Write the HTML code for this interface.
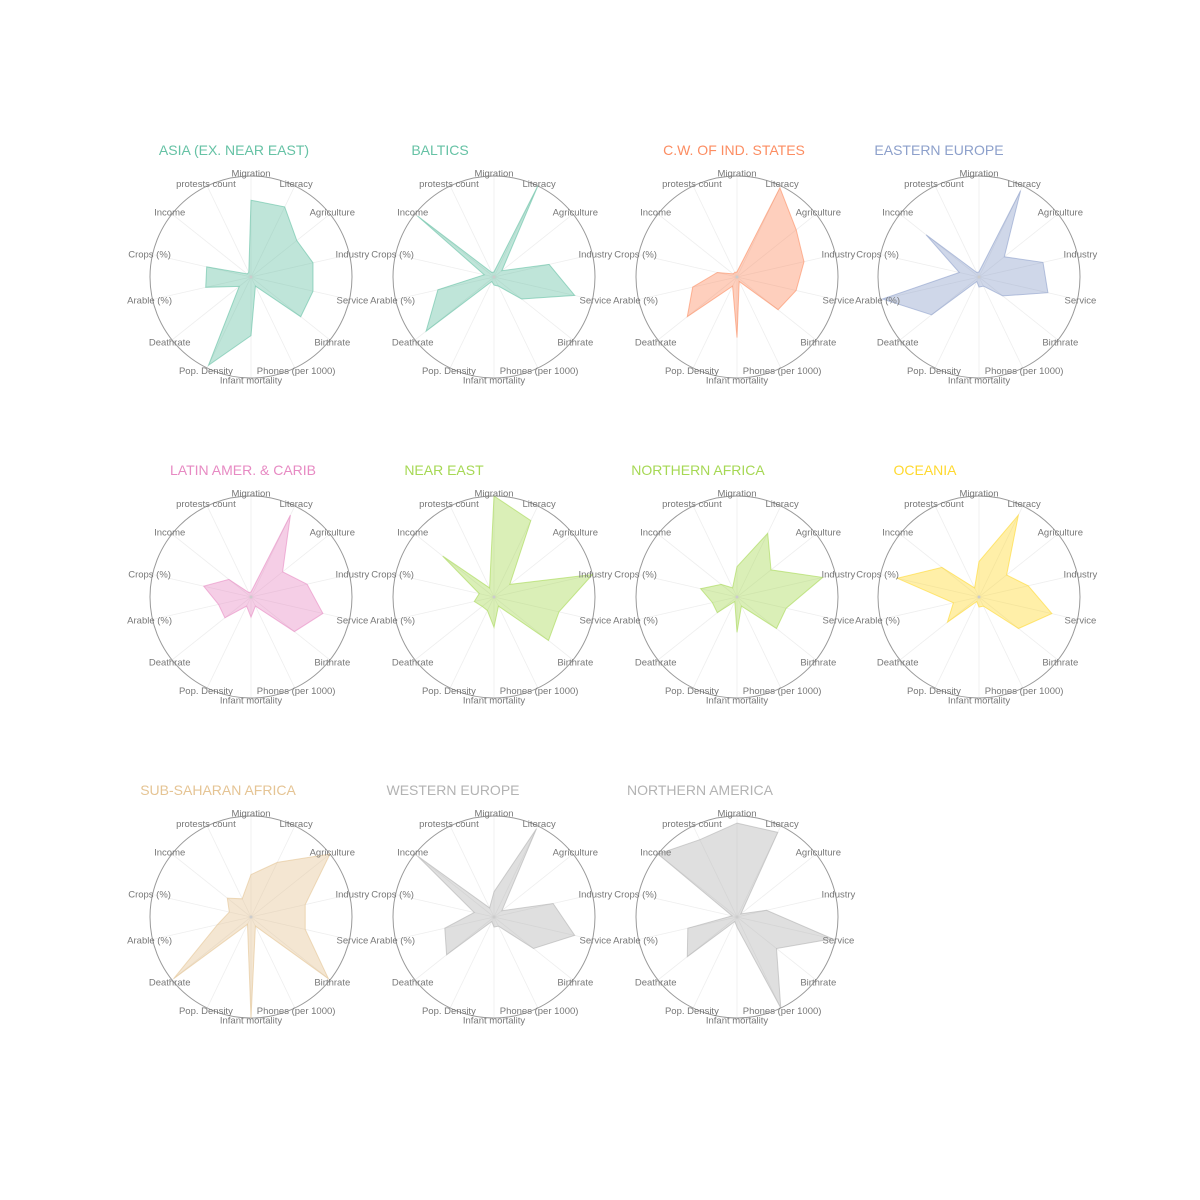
<!DOCTYPE html>
<html><head><meta charset="utf-8"><style>
body{margin:0;background:#fff;}
svg{display:block;}
text{font-family:"Liberation Sans",sans-serif;}
</style></head><body>
<svg id="s" width="1200" height="1200" xmlns="http://www.w3.org/2000/svg"></svg>
<script>
var labels=["Migration","Literacy","Agriculture","Industry","Service","Birthrate","Phones (per 1000)","Infant mortality","Pop. Density","Deathrate","Arable (%)","Crops (%)","Income","protests count"];
var charts=[
["ASIA (EX. NEAR EAST)","#66c2a5",234,[0.76,0.77,0.58,0.63,0.63,0.63,0.1,0.58,0.97,0.15,0.46,0.45,0.05,0.05]],
["BALTICS","#66c2a5",440,[0.05,1.0,0.1,0.56,0.82,0.35,0.1,0.08,0.05,0.86,0.57,0.1,0.97,0.05]],
["C.W. OF IND. STATES","#fc8d62",734,[0.05,0.98,0.75,0.68,0.6,0.52,0.05,0.6,0.1,0.63,0.45,0.2,0.05,0.05]],
["EASTERN EUROPE","#8da0cb",939,[0.05,0.95,0.32,0.65,0.7,0.3,0.1,0.1,0.05,0.6,0.98,0.2,0.67,0.05]],
["LATIN AMER. & CARIB","#e78ac3",243,[0.05,0.9,0.4,0.57,0.73,0.55,0.1,0.2,0.1,0.33,0.33,0.48,0.28,0.05]],
["NEAR EAST","#a6d854",444,[1.0,0.84,0.2,1.0,0.66,0.69,0.1,0.3,0.15,0.15,0.2,0.15,0.65,0.1]],
["NORTHERN AFRICA","#a6d854",698,[0.3,0.7,0.43,0.87,0.5,0.5,0.1,0.35,0.05,0.25,0.25,0.37,0.2,0.1]],
["OCEANIA","#ffd92f",925,[0.35,0.9,0.35,0.5,0.74,0.5,0.1,0.1,0.05,0.4,0.26,0.83,0.47,0.1]],
["SUB-SAHARAN AFRICA","#e5c494",218,[0.42,0.6,1.0,0.55,0.55,0.98,0.1,1.0,0.08,0.98,0.34,0.22,0.3,0.2]],
["WESTERN EUROPE","#b3b3b3",453,[0.25,0.97,0.1,0.6,0.82,0.5,0.1,0.1,0.05,0.6,0.5,0.2,0.97,0.1]],
["NORTHERN AMERICA","#b3b3b3",700,[0.93,0.93,0.05,0.3,0.97,0.5,1.0,0.1,0.05,0.63,0.5,0.05,1.0,0.85]]
];
var cx=[251,494,737,979],cy=[277,597,917],R=101,h="";
charts.forEach(function(c,i){
 var x0=cx[i%4],y0=cy[Math.floor(i/4)],n=14,pts=[];
 h+='<text x="'+c[2]+'" y="'+(y0-122)+'" font-size="14" fill="'+c[1]+'" text-anchor="middle">'+c[0].replace("&","&amp;")+'</text>';
 for(var k=0;k<n;k++){var a=k*2*Math.PI/n,s=Math.sin(a),co=Math.cos(a);
  h+='<line x1="'+x0+'" y1="'+y0+'" x2="'+(x0+R*s)+'" y2="'+(y0-R*co)+'" stroke="#eeeeee" stroke-width="0.8"/>';
  pts.push((x0+R*c[3][k]*s).toFixed(1)+","+(y0-R*c[3][k]*co).toFixed(1));}
 h+='<circle cx="'+x0+'" cy="'+y0+'" r="'+R+'" fill="none" stroke="#999" stroke-width="1"/>';
 h+='<polygon points="'+pts.join(" ")+'" fill="'+c[1]+'" fill-opacity="0.42" stroke="'+c[1]+'" stroke-opacity="0.6" stroke-width="1"/>';
 h+='<circle cx="'+x0+'" cy="'+y0+'" r="1.5" fill="#ccc"/>';
 for(var k=0;k<n;k++){var a=k*2*Math.PI/n,rr=(k==0?104:(k==7?103:104));
  h+='<text x="'+(x0+rr*Math.sin(a)).toFixed(1)+'" y="'+(y0-rr*Math.cos(a)+3.5).toFixed(1)+'" font-size="9.5" fill="#777" text-anchor="middle">'+labels[k]+'</text>';}
});
document.getElementById("s").innerHTML=h;
</script>
</body></html>
